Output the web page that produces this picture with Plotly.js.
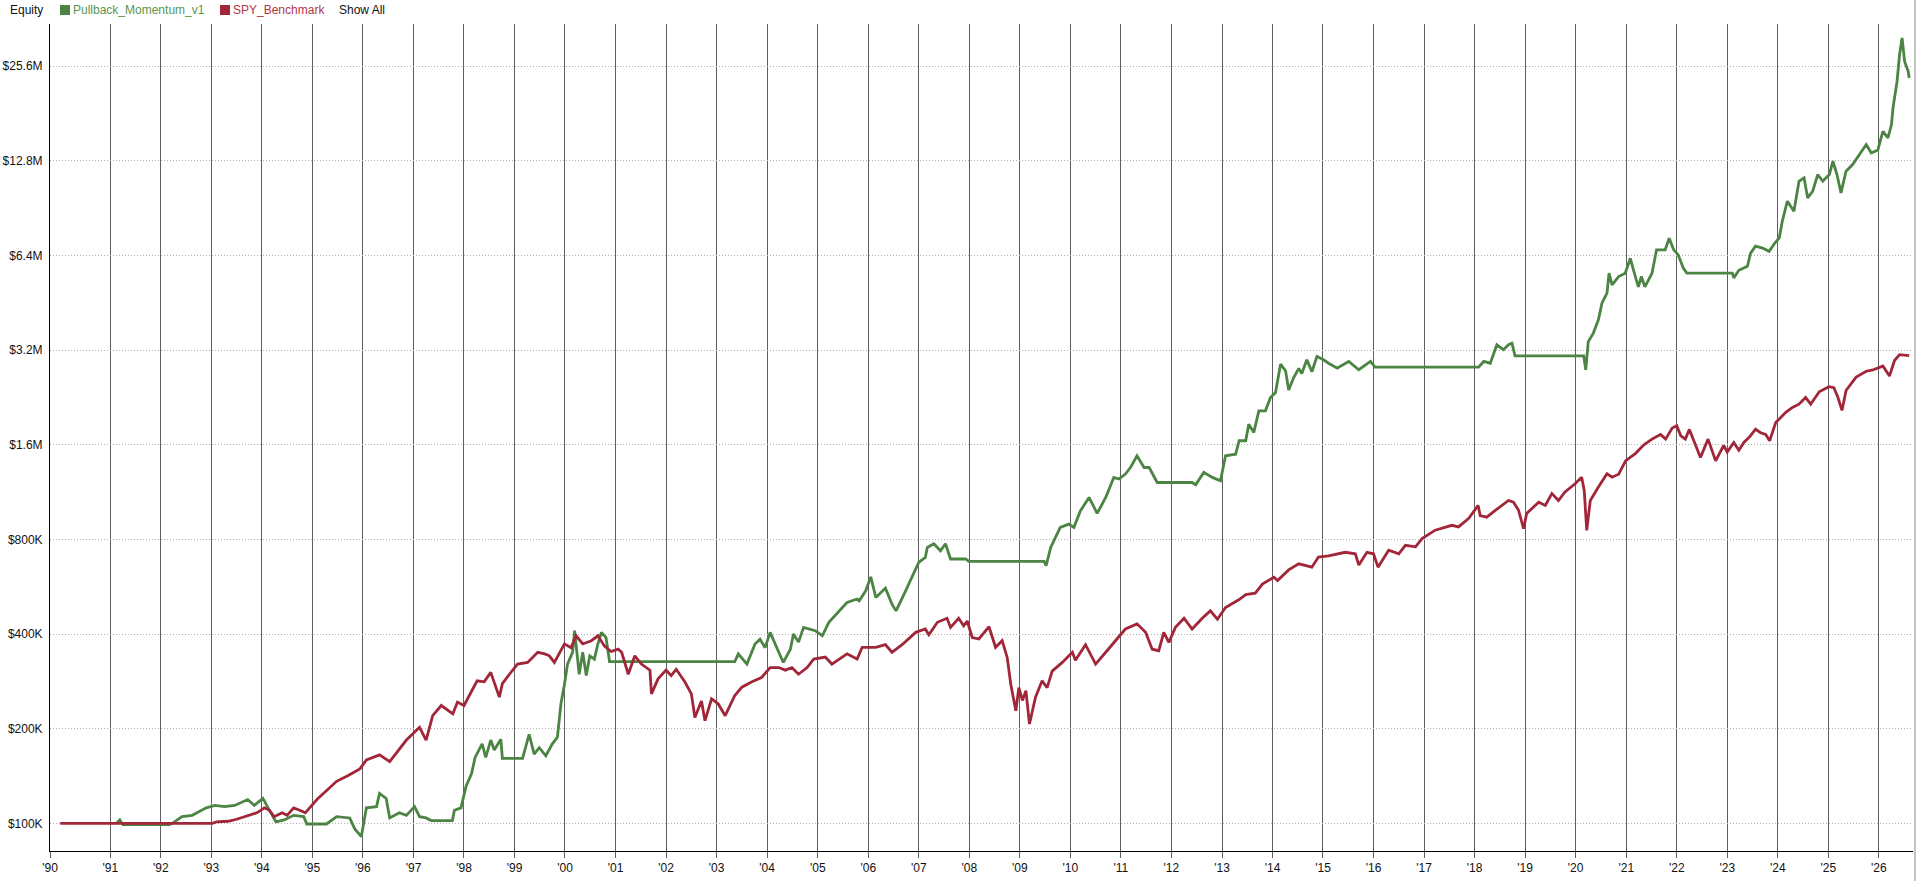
<!DOCTYPE html>
<html>
<head>
<meta charset="utf-8">
<script src="https://cdn.plot.ly/plotly-3.0.1.min.js"></script>
<style>
  html, body { margin: 0; padding: 0; background: #fff; overflow: hidden; }
  #chart { width: 1916px; height: 881px; }
</style>
</head>
<body>
<div id="chart"></div>
<script>
// ---- Data (decimal years, equity in dollars) ----
const strategyName = "Pullback_Momentum_v1";
const benchmarkName = "SPY_Benchmark";

const strategyYears = [
  1991.12,1991.19,1991.25,1992.17,1992.23,1992.42,1992.62,1992.9,1993.07,1993.26,1993.46,1993.72,1993.85,
  1994.02,1994.11,1994.28,1994.44,1994.63,1994.83,1994.89,1995.28,1995.48,1995.74,1995.84,1995.97,
  1996.07,1996.27,1996.33,1996.46,1996.53,1996.72,1996.86,1997.02,1997.12,1997.25,1997.35,1997.77,
  1997.81,1997.94,1998.04,1998.15,1998.22,1998.36,1998.43,1998.53,1998.6,1998.73,1998.76,1999.16,
  1999.29,1999.39,1999.49,1999.62,1999.75,1999.85,1999.92,1999.99,2000.05,2000.15,2000.19,2000.28,
  2000.35,2000.42,2000.49,2000.58,2000.65,2000.72,2000.81,2000.88,2003.36,2003.43,2003.6,2003.76,
  2003.86,2003.96,2004.06,2004.23,2004.32,2004.46,2004.52,2004.62,2004.72,2004.95,2005.09,2005.22,
  2005.42,2005.58,2005.78,2005.82,2005.95,2006.05,2006.15,2006.34,2006.47,2006.55,2006.71,2006.87,
  2007.0,2007.13,2007.17,2007.3,2007.43,2007.53,2007.63,2007.93,2007.99,2009.48,2009.52,2009.61,
  2009.71,2009.8,2009.97,2010.07,2010.2,2010.37,2010.47,2010.53,2010.7,2010.86,2010.96,2011.09,
  2011.19,2011.32,2011.46,2011.56,2011.72,2012.41,2012.48,2012.64,2012.81,2012.97,2013.07,2013.27,
  2013.34,2013.47,2013.53,2013.63,2013.73,2013.86,2013.96,2014.06,2014.16,2014.26,2014.32,2014.42,
  2014.52,2014.58,2014.68,2014.78,2014.88,2015.01,2015.11,2015.28,2015.51,2015.71,2015.94,2016.03,
  2018.08,2018.18,2018.31,2018.44,2018.57,2018.67,2018.74,2018.8,2020.16,2020.2,2020.25,2020.35,
  2020.45,2020.52,2020.62,2020.66,2020.72,2020.85,2020.98,2021.08,2021.18,2021.24,2021.3,2021.37,
  2021.51,2021.6,2021.77,2021.85,2021.94,2022.03,2022.13,2022.2,2023.1,2023.13,2023.23,2023.4,
  2023.46,2023.56,2023.7,2023.83,2023.93,2024.03,2024.09,2024.19,2024.32,2024.42,2024.52,2024.59,
  2024.69,2024.79,2024.89,2025.02,2025.09,2025.17,2025.25,2025.35,2025.48,2025.62,2025.75,2025.85,
  2025.98,2026.08,2026.18,2026.25,2026.28,2026.36,2026.41,2026.46,2026.51,2026.58,2026.6
];
const strategyEquity = [
  100000,102500,99000,99000,100000,105000,106000,112000,114000,113000,114000,119000,114000,
  120000,113000,101000,102500,106000,105000,99500,99500,105000,104000,96000,90700,
  112000,113000,124500,120000,104000,108000,106000,113000,105000,104000,102000,102000,
  110000,112000,131000,144000,162000,179000,162000,184000,171000,185000,161000,161000,
  192000,166000,174000,164000,179000,188000,240000,277000,321000,350000,410000,298000,
  350000,295000,341000,333000,372000,405000,390000,327000,327000,346000,321000,372000,
  385000,362000,405000,350000,325000,358000,400000,377000,420000,410000,395000,436000,
  474000,504000,517000,510000,549000,608000,523000,560000,498000,474000,536000,606000,
  676000,701000,754000,775000,736000,775000,693000,693000,681000,681000,660000,754000,
  812000,874000,895000,874000,987000,1088000,1011000,968000,1088000,1260000,1245000,1291000,
  1355000,1476000,1355000,1355000,1214000,1214000,1194000,1307000,1260000,1229000,1476000,1494000,
  1648000,1648000,1861000,1752000,2052000,2052000,2263000,2347000,2888000,2748000,2390000,2619000,
  2800000,2698000,2983000,2731000,3054000,2983000,2908000,2805000,2946000,2772000,2946000,2826000,
  2826000,2946000,2908000,3328000,3211000,3328000,3365000,3068000,3068000,2772000,3405000,3626000,
  3995000,4513000,4857000,5622000,5163000,5488000,5622000,6273000,5488000,5090000,5488000,5090000,
  5622000,6672000,6672000,7265000,6672000,6430000,5834000,5630000,5630000,5434000,5744000,5915000,
  6500000,6854000,6761000,6600000,6970000,7282000,8229000,9529000,8853000,11030000,11300000,9760000,
  10250000,11580000,11030000,11580000,12770000,11580000,10130000,11870000,12460000,13410000,14430000,13570000,
  13870000,15900000,15150000,16700000,18870000,22900000,27900000,31500000,26500000,24700000,23500000
];

const benchmarkYears = [
  1990.01,1993.02,1993.1,1993.33,1993.5,1993.72,1993.9,1994.05,1994.15,1994.24,1994.4,1994.5,1994.63,
  1994.75,1994.86,1995.09,1995.48,1995.71,1995.94,1996.07,1996.33,1996.53,1996.86,1997.12,1997.25,
  1997.38,1997.55,1997.78,1997.87,1998.0,1998.13,1998.26,1998.4,1998.53,1998.7,1998.76,1998.9,
  1999.06,1999.26,1999.46,1999.6,1999.69,1999.79,1999.99,2000.12,2000.22,2000.35,2000.52,2000.65,
  2000.78,2000.91,2001.05,2001.12,2001.25,2001.38,2001.51,2001.68,2001.71,2001.84,2002.0,2002.1,
  2002.2,2002.37,2002.5,2002.57,2002.7,2002.77,2002.9,2003.03,2003.17,2003.36,2003.5,2003.7,
  2003.89,2004.06,2004.23,2004.36,2004.49,2004.62,2004.79,2004.92,2005.15,2005.28,2005.58,2005.78,
  2005.88,2006.15,2006.34,2006.47,2006.67,2006.94,2007.13,2007.2,2007.37,2007.56,2007.63,2007.79,
  2007.89,2007.96,2008.06,2008.19,2008.39,2008.52,2008.65,2008.75,2008.82,2008.92,2008.98,2009.05,
  2009.12,2009.19,2009.31,2009.44,2009.54,2009.64,2009.84,2010.04,2010.1,2010.3,2010.5,2010.7,
  2010.89,2011.09,2011.32,2011.49,2011.62,2011.75,2011.85,2011.95,2012.08,2012.25,2012.41,2012.61,
  2012.77,2012.91,2013.07,2013.34,2013.47,2013.66,2013.8,2014.03,2014.1,2014.32,2014.52,2014.78,
  2014.91,2015.11,2015.44,2015.64,2015.71,2015.87,2016.0,2016.09,2016.3,2016.5,2016.63,2016.83,
  2016.96,2017.22,2017.55,2017.68,2017.88,2018.07,2018.11,2018.24,2018.41,2018.67,2018.77,2018.87,
  2018.97,2019.03,2019.27,2019.4,2019.53,2019.66,2019.79,2019.99,2020.12,2020.17,2020.22,2020.29,
  2020.45,2020.62,2020.72,2020.85,2020.99,2021.18,2021.35,2021.51,2021.68,2021.78,2021.91,2022.0,
  2022.08,2022.17,2022.25,2022.37,2022.47,2022.62,2022.77,2022.93,2023.0,2023.13,2023.23,2023.33,
  2023.46,2023.56,2023.66,2023.76,2023.84,2023.96,2024.16,2024.29,2024.42,2024.55,2024.65,2024.82,
  2025.01,2025.11,2025.19,2025.27,2025.35,2025.55,2025.75,2025.88,2026.08,2026.21,2026.31,2026.41,2026.6
];
const benchmarkEquity = [
  100000,100000,101000,101500,103000,106000,108000,112000,110000,105000,108000,106000,112000,
  110000,108000,119000,136000,142000,149000,159000,165000,157000,184000,202000,184000,
  220000,237000,223000,243000,237000,261000,284000,282000,302000,252000,278000,298000,
  321000,325000,350000,346000,341000,325000,372000,362000,395000,372000,381000,395000,
  366000,352000,358000,350000,298000,341000,321000,307000,258000,288000,307000,295000,
  309000,282000,258000,217000,245000,212000,249000,240000,220000,255000,271000,282000,
  291000,313000,313000,307000,313000,298000,313000,333000,338000,321000,346000,333000,
  363000,363000,370000,350000,370000,405000,415000,398000,436000,449000,420000,449000,
  425000,440000,390000,386000,422000,363000,381000,337000,277000,228000,270000,246000,
  264000,207000,252000,284000,270000,305000,325000,350000,330000,370000,321000,350000,
  381000,415000,431000,405000,358000,354000,405000,376000,420000,449000,415000,449000,
  474000,446000,486000,515000,534000,540000,577000,606000,592000,640000,669000,653000,
  703000,709000,728000,720000,663000,728000,720000,653000,739000,720000,766000,758000,
  805000,856000,887000,877000,932000,1026000,953000,942000,990000,1064000,1051000,990000,
  865000,968000,1051000,1026000,1119000,1064000,1133000,1203000,1262000,1145000,855000,1064000,
  1175000,1294000,1262000,1290000,1425000,1500000,1600000,1668000,1726000,1668000,1808000,1839000,
  1708000,1668000,1791000,1594000,1458000,1668000,1423000,1594000,1517000,1627000,1537000,1627000,
  1708000,1794000,1748000,1726000,1647000,1884000,2030000,2103000,2154000,2263000,2154000,2360000,
  2448000,2430000,2263000,2058000,2381000,2627000,2742000,2768000,2848000,2648000,2966000,3097000,3075000
];

// ---- Axis ticks ----
const yTickValues = [100000, 200000, 400000, 800000, 1600000, 3200000, 6400000, 12800000, 25600000];
const yTickLabels = ["$100K", "$200K", "$400K", "$800K", "$1.6M", "$3.2M", "$6.4M", "$12.8M", "$25.6M"];
const xTickYears = [1989.807, 1991, 1992, 1993, 1994, 1995, 1996, 1997, 1998, 1999, 2000, 2001, 2002, 2003,
  2004, 2005, 2006, 2007, 2008, 2009, 2010, 2011, 2012, 2013, 2014, 2015, 2016, 2017, 2018, 2019,
  2020, 2021, 2022, 2023, 2024, 2025, 2026];
const xTickLabels = ["'90", "'91", "'92", "'93", "'94", "'95", "'96", "'97", "'98", "'99", "'00", "'01", "'02", "'03",
  "'04", "'05", "'06", "'07", "'08", "'09", "'10", "'11", "'12", "'13", "'14", "'15", "'16", "'17", "'18", "'19",
  "'20", "'21", "'22", "'23", "'24", "'25", "'26"];

// decimal year -> ISO date string
function toDate(y) {
  const yr = Math.floor(y);
  const a = Date.UTC(yr, 0, 1), b = Date.UTC(yr + 1, 0, 1);
  return new Date(a + (y - yr) * (b - a)).toISOString().slice(0, 19).replace('T', ' ');
}

const green = '#4b8443';
const red = '#a22639';
const FONT = '"Liberation Sans", Arial, sans-serif';

const traces = [
  {
    x: strategyYears.map(toDate), y: strategyEquity, name: strategyName,
    type: 'scatter', mode: 'lines', line: { color: green, width: 2.8 }, hoverinfo: 'skip'
  },
  {
    x: benchmarkYears.map(toDate), y: benchmarkEquity, name: benchmarkName,
    type: 'scatter', mode: 'lines', line: { color: red, width: 2.8 }, hoverinfo: 'skip'
  }
];

// pixel helpers for paper coordinates (plot area: x 50..1913, y 24..851)
const L = 50, R = 1913, T = 24, B = 851;
const px = v => (v - L) / (R - L);
const py = v => (B - v) / (B - T);

const layout = {
  width: 1916, height: 881,
  margin: { l: L, r: 1916 - R, t: T, b: 881 - B, pad: 0 },
  paper_bgcolor: '#ffffff', plot_bgcolor: '#ffffff',
  showlegend: false,
  font: { family: FONT, size: 12, color: '#111111' },
  xaxis: {
    type: 'date',
    range: [toDate(1989.807), toDate(2026.676)],
    tickmode: 'array',
    tickvals: xTickYears.map(toDate),
    ticktext: xTickLabels,
    showgrid: true, gridcolor: '#5f5f5f', gridwidth: 1,
    ticks: 'outside', ticklen: 6, tickcolor: '#5f5f5f', tickwidth: 1,
    showline: true, linecolor: '#000000', linewidth: 1,
    zeroline: false,
    tickfont: { family: FONT, size: 12, color: '#111111' },
    fixedrange: true
  },
  yaxis: {
    type: 'log',
    range: [Math.log10(81640), Math.log10(34890000)],
    tickmode: 'array',
    tickvals: yTickValues,
    ticktext: yTickLabels,
    showgrid: true, gridcolor: '#b0b0b0', gridwidth: 1, griddash: '1px,2px',
    ticks: '', ticklabelstandoff: 4,
    showline: true, linecolor: '#000000', linewidth: 1,
    zeroline: false,
    tickfont: { family: FONT, size: 12, color: '#111111' },
    fixedrange: true
  },
  shapes: [
    { type: 'rect', xref: 'paper', yref: 'paper', x0: px(60), x1: px(70), y0: py(15), y1: py(5),
      fillcolor: green, line: { width: 0 } },
    { type: 'rect', xref: 'paper', yref: 'paper', x0: px(220), x1: px(230), y0: py(15), y1: py(5),
      fillcolor: red, line: { width: 0 } },
    { type: 'line', xref: 'paper', yref: 'paper', x0: px(1915), x1: px(1915), y0: py(881), y1: py(0),
      line: { color: '#b0b0b0', width: 1.5 } }
  ],
  annotations: [
    { text: 'Equity', xref: 'paper', yref: 'paper', x: px(8), y: py(10), xanchor: 'left', yanchor: 'middle',
      showarrow: false, font: { family: FONT, size: 12, color: '#111111' } },
    { text: strategyName, xref: 'paper', yref: 'paper', x: px(71), y: py(10), xanchor: 'left', yanchor: 'middle',
      showarrow: false, font: { family: FONT, size: 12, color: '#5a9450' } },
    { text: benchmarkName, xref: 'paper', yref: 'paper', x: px(231), y: py(10), xanchor: 'left', yanchor: 'middle',
      showarrow: false, font: { family: FONT, size: 12, color: '#b03448' } },
    { text: 'Show All', xref: 'paper', yref: 'paper', x: px(337), y: py(10), xanchor: 'left', yanchor: 'middle',
      showarrow: false, font: { family: FONT, size: 12, color: '#111111' } }
  ]
};

Plotly.newPlot('chart', traces, layout, { displayModeBar: false, staticPlot: true });
</script>
</body>
</html>
